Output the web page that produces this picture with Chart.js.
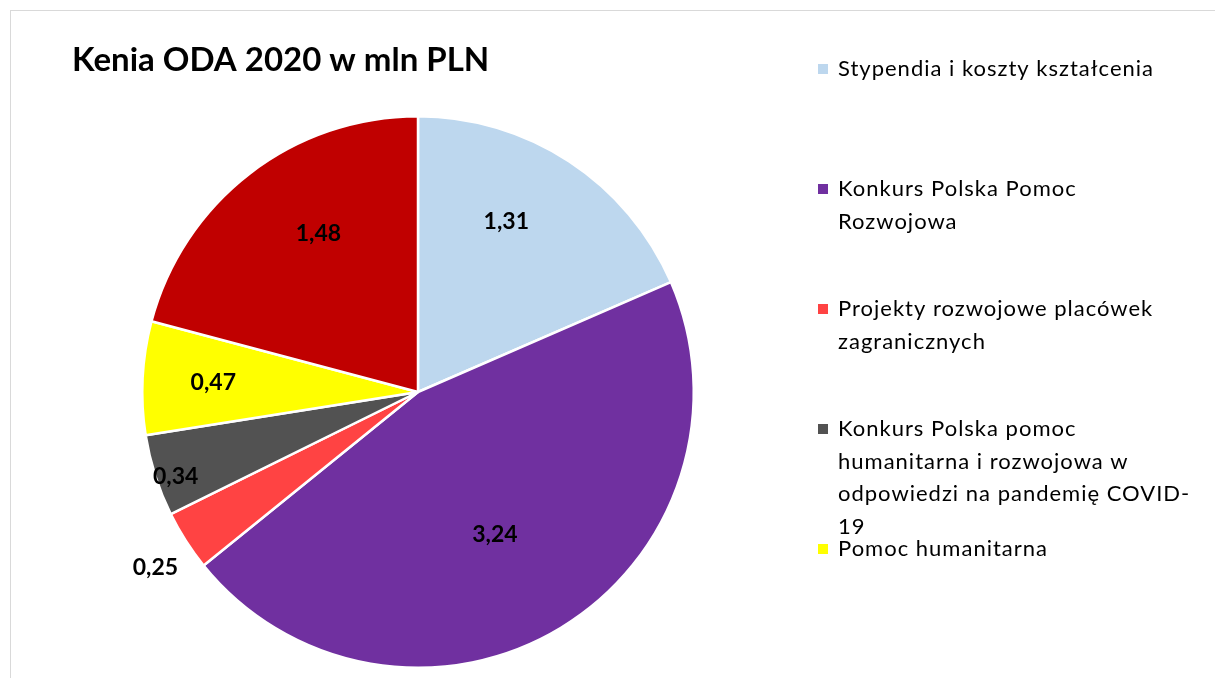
<!DOCTYPE html>
<html>
<head>
<meta charset="utf-8">
<script src="https://cdn.jsdelivr.net/npm/chart.js@4"></script>
<style>
  html, body { margin: 0; padding: 0; background: #fff; overflow: hidden; }
  #frame {
    position: absolute; left: 10px; top: 10px;
    width: 1400px; height: 900px;
    border: 1px solid #d9d9d9;
  }
  #wrap { position: absolute; left: 0; top: 0; width: 1215px; height: 678px; }
</style>
</head>
<body>
<div id="frame"></div>
<div id="wrap"><canvas id="chart"></canvas></div>
<script>
"use strict";

// data (mln PLN)
const categories = [
  "Stypendia i koszty kształcenia",
  "Konkurs Polska Pomoc Rozwojowa",
  "Projekty rozwojowe placówek zagranicznych",
  "Konkurs Polska pomoc humanitarna i rozwojowa w odpowiedzi na pandemię COVID-19",
  "Pomoc humanitarna",
  "Inne"
];
const values = [1.31, 3.24, 0.25, 0.34, 0.47, 1.48];
const sliceColors = ["#BDD7EE", "#7030A0", "#FF4343", "#525252", "#FFFF00", "#C00000"];

const titleText = "Kenia ODA 2020 w mln PLN";

// where each value label sits: fraction of radius and a small angle nudge (degrees)
const labelRadius = [0.697, 0.588, 1.145, 0.93, 0.743, 0.68];
const labelNudge = [-5.9, 2.9, -1.1, -1.5, -0.4, 5.5];

function formatValue(v) {
  return v.toFixed(2).replace(".", ",");
}

// split a label into lines that fit maxWidth, breaking at spaces and after hyphens
function wrapText(ctx, text, maxWidth) {
  const tokens = [];
  text.split(" ").forEach(function (word, i) {
    word.split(/(?<=-)/).forEach(function (part, j) {
      tokens.push({ text: part, space: i > 0 && j === 0 });
    });
  });
  const lines = [];
  let line = "";
  tokens.forEach(function (t) {
    const test = line === "" ? t.text : line + (t.space ? " " : "") + t.text;
    if (line !== "" && ctx.measureText(test).width > maxWidth) {
      lines.push(line);
      line = t.text;
    } else {
      line = test;
    }
  });
  if (line !== "") lines.push(line);
  return lines;
}

const extrasPlugin = {
  id: "extras",
  afterDatasetsDraw(chart) {
    const ctx = chart.ctx;
    const meta = chart.getDatasetMeta(0);
    ctx.save();

    // value labels
    ctx.font = "bold 23px Lato";
    ctx.fillStyle = "#000";
    ctx.textAlign = "center";
    ctx.textBaseline = "middle";
    meta.data.forEach(function (arc, i) {
      const p = arc.getProps(["x", "y", "startAngle", "endAngle", "outerRadius"], true);
      const mid = (p.startAngle + p.endAngle) / 2 + labelNudge[i] * Math.PI / 180;
      const r = p.outerRadius * labelRadius[i];
      ctx.fillText(formatValue(values[i]), p.x + Math.cos(mid) * r, p.y + Math.sin(mid) * r);
    });

    // title
    ctx.font = "bold 33px Lato";
    ctx.textAlign = "left";
    ctx.fillText(titleText, 72, 60);

    // legend, entries dropped once they run off the bottom
    ctx.font = "22px Lato";
    ctx.letterSpacing = "1px";
    const slot = 120;
    const lineH = 32.5;
    categories.forEach(function (cat, i) {
      const y0 = 69 + i * slot;
      if (y0 + 10 > chart.height) return;
      ctx.fillStyle = sliceColors[i];
      ctx.fillRect(818, y0 - 5, 10, 10);
      ctx.fillStyle = "#000";
      wrapText(ctx, cat, 360).forEach(function (ln, k) {
        ctx.fillText(ln, 838, y0 + k * lineH);
      });
    });

    ctx.restore();
  }
};

const config = {
  type: "pie",
  data: {
    labels: categories,
    datasets: [{
      data: values,
      backgroundColor: sliceColors,
      borderColor: "#ffffff",
      borderWidth: 2.5
    }]
  },
  options: {
    responsive: false,
    animation: false,
    events: [],
    layout: { padding: { left: 141, right: 520, top: 115, bottom: 9 } },
    plugins: {
      legend: { display: false },
      title: { display: false },
      tooltip: { enabled: false }
    }
  },
  plugins: [extrasPlugin]
};

const canvas = document.getElementById("chart");
canvas.width = 1215;
canvas.height = 678;
const myChart = new Chart(canvas, config);
</script>
</body>
</html>
